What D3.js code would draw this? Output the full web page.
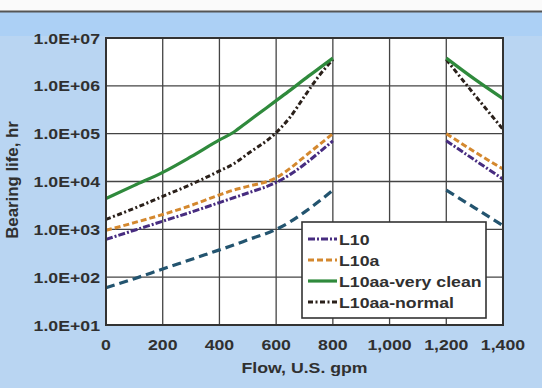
<!DOCTYPE html>
<html><head><meta charset="utf-8">
<script src="https://cdn.jsdelivr.net/npm/d3@7"></script>
<style>html,body{margin:0;padding:0;background:#fff;}svg{display:block;}</style>
</head><body>
<script>
// ---- data ----
const flowLeft = [0,100,200,300,400,450,500,600,650,700,750,800];
const flowRight = [1200,1300,1400];
const seriesNames = ["L10","L10a","L10aa-very clean","L10aa-normal","Other"];
const l10Left   = [617,955,1480,2290,3630,4570,5750,9550,14100,22900,39800,70800];
const l10Right  = [70800,28200,11200];
const l10aLeft  = [955,1380,2040,3160,5250,6600,7900,12000,19000,33000,57500,100000];
const l10aRight = [100000,41700,18200];
const cleanLeft = [4400,8300,15500,33000,74000,107000,178000,490000,813000,1380000,2290000,3800000];
const cleanRight= [3800000,1380000,540000];
const normalLeft= [1620,2750,4900,8700,16600,23400,38000,105000,224000,603000,1585000,3550000];
const normalRight=[3550000,646000,123000];
const otherLeft = [60,93,148,234,372,468,603,1000,1445,2290,3800,6600];
const otherRight= [6600,2820,1200];
const xTicks = [0,200,400,600,800,1000,1200,1400];
const xTickLabels = ["0","200","400","600","800","1,000","1,200","1,400"];
const yTicks = [10,100,1000,10000,100000,1000000,10000000];
const yTickLabels = ["1.0E+01","1.0E+02","1.0E+03","1.0E+04","1.0E+05","1.0E+06","1.0E+07"];

const W=542,H=388;
const svg=d3.select("body").append("svg").attr("width",W).attr("height",H);
// background
svg.append("rect").attr("x",0).attr("y",0).attr("width",W).attr("height",H).attr("fill","#b9d5f2");
svg.append("rect").attr("x",0).attr("y",0).attr("width",W).attr("height",11).attr("fill","#fafafa");
svg.append("rect").attr("x",0).attr("y",12).attr("width",W).attr("height",24).attr("fill","#acd0f5");
svg.append("line").attr("x1",0).attr("x2",W).attr("y1",11.5).attr("y2",11.5).attr("stroke","#555").attr("stroke-width",2);

const x=d3.scaleLinear().domain([0,1400]).range([106,503]);
const y=d3.scaleLog().domain([10,1e7]).range([325,38]);

svg.append("rect").attr("x",x(0)).attr("y",y(1e7)).attr("width",x(1400)-x(0)).attr("height",y(10)-y(1e7)).attr("fill","#fff");

// grid
const g=svg.append("g");
g.selectAll(".vg").data(xTicks).join("line")
 .attr("x1",d=>x(d)).attr("x2",d=>x(d)).attr("y1",y(1e7)).attr("y2",y(10))
 .attr("stroke","#444").attr("stroke-width",1.3);
g.selectAll(".hg").data(yTicks).join("line")
 .attr("x1",x(0)).attr("x2",x(1400)).attr("y1",d=>y(d)).attr("y2",d=>y(d))
 .attr("stroke","#444").attr("stroke-width",1.3);

const FONT='"Liberation Sans", Arial, sans-serif';
function txt(px,py,s,anchor,opts={}){
  const sx=opts.sx||1.18;
  return svg.append("text").attr("transform",`translate(${px},${py}) scale(${sx},1)`)
    .attr("text-anchor",anchor).attr("font-family",FONT).attr("font-weight","bold")
    .attr("font-size",opts.size||15).attr("fill","#303030").text(s);
}
yTicks.forEach((d,i)=>txt(100,y(d)+5.5,yTickLabels[i],"end"));
xTicks.forEach((d,i)=>txt(x(d),349.5,xTickLabels[i],"middle"));
txt(304.5,373,"Flow, U.S. gpm","middle");
svg.append("text").attr("transform","translate(18,180) rotate(-90) scale(1.12,1.15)")
  .attr("text-anchor","middle").attr("font-family",FONT).attr("font-weight","bold")
  .attr("font-size",15).attr("fill","#303030").text("Bearing life, hr");

// lines
const line=d3.line().x(d=>x(d[0])).y(d=>y(d[1])).curve(d3.curveMonotoneX);
const styles=[
 {name:"Other", L:otherLeft, R:otherRight, color:"#23546f", dash:"9,5", w:3.2},
 {name:"L10", L:l10Left, R:l10Right, color:"#472c80", dash:"7,2,2,2", w:3},
 {name:"L10a", L:l10aLeft, R:l10aRight, color:"#d4882e", dash:"6,3", w:3},
 {name:"L10aa-normal", L:normalLeft, R:normalRight, color:"#2a201a", dash:"5,2.5,2,2.5", w:3},
 {name:"L10aa-very clean", L:cleanLeft, R:cleanRight, color:"#2f8a3c", dash:null, w:3.2},
];
styles.forEach(s=>{
  [[flowLeft,s.L],[flowRight,s.R]].forEach(([fx,vals])=>{
    svg.append("path").datum(fx.map((f,i)=>[f,vals[i]])).attr("d",line)
      .attr("fill","none").attr("stroke",s.color).attr("stroke-width",s.w)
      .attr("stroke-dasharray",s.dash);
  });
});

// border
svg.append("rect").attr("x",x(0)).attr("y",y(1e7)).attr("width",x(1400)-x(0)).attr("height",y(10)-y(1e7))
  .attr("fill","none").attr("stroke","#333").attr("stroke-width",2);

// legend
const legendOrder=["L10","L10a","L10aa-very clean","L10aa-normal"];
svg.append("rect").attr("x",302).attr("y",222).attr("width",184).attr("height",96)
  .attr("fill","#fff").attr("stroke","#333").attr("stroke-width",1.6);
legendOrder.forEach((n,i)=>{
  const s=styles.find(t=>t.name===n);
  const cy=239+i*21;
  svg.append("line").attr("x1",308).attr("x2",337).attr("y1",cy).attr("y2",cy)
    .attr("stroke",s.color).attr("stroke-width",s.w).attr("stroke-dasharray",s.dash);
  txt(339,cy+5.5,n,"start");
});
</script>
</body></html>
